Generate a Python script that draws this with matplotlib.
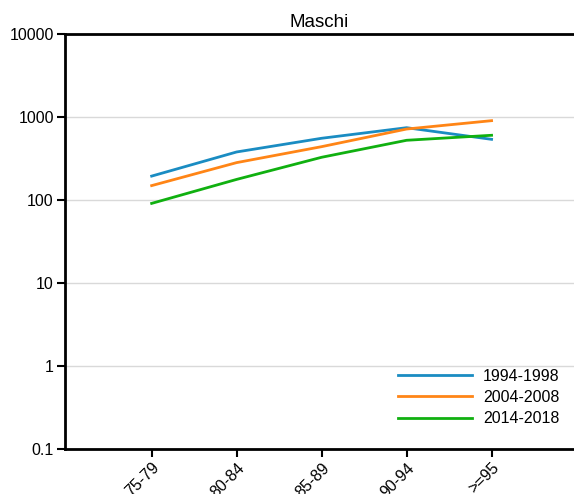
import numpy as np
import matplotlib.pyplot as plt
from matplotlib import font_manager

# keep the regular Liberation Sans, not the narrow cut
font_manager.fontManager.ttflist = [
    f for f in font_manager.fontManager.ttflist if "Narrow" not in f.fname
]
plt.rcParams["font.family"] = ["Liberation Sans", "DejaVu Sans"]

age_groups = ["75-79", "80-84", "85-89", "90-94", ">=95"]
periods = ["1994-1998", "2004-2008", "2014-2018"]
rates_1994 = [194, 379, 554, 743, 538]
rates_2004 = [149, 282, 439, 716, 903]
rates_2014 = [91, 177, 327, 524, 602]
colors = ["#1a8cc2", "#ff8516", "#10b010"]

fig = plt.figure(figsize=(5.74, 4.94), dpi=100)
ax = fig.add_axes([0.1132, 0.0911, 0.8868, 0.8401])

x = np.arange(1, len(age_groups) + 1)
for label, vals, col in zip(periods, [rates_1994, rates_2004, rates_2014], colors):
    ax.plot(x, vals, color=col, lw=2, label=label)

ax.set_yscale("log")
ax.set_ylim(0.1, 10000)
ax.set_xlim(-0.02, 5.97)
ax.set_yticks([0.1, 1, 10, 100, 1000, 10000])
ax.set_yticklabels(["0.1", "1", "10", "100", "1000", "10000"])
ax.minorticks_off()
ax.set_xticks(x)
ax.set_xticklabels(age_groups, rotation=45, ha="right", rotation_mode="anchor")
ax.tick_params(labelsize=11.5, width=1.5, length=6, colors="black")
ax.tick_params(axis="y", pad=2)
ax.tick_params(axis="x", pad=2)
ax.grid(axis="y", color="#d9d9d9", lw=1)
ax.set_axisbelow(True)

for s in ["left", "top", "bottom"]:
    ax.spines[s].set_linewidth(2)
ax.spines["right"].set_visible(False)

ax.set_title("Maschi", fontsize=13.5, pad=5)
ax.legend(loc="lower right", frameon=False, fontsize=11.5, handlelength=4.6,
          handletextpad=0.7, labelspacing=0.4, bbox_to_anchor=(1.0, 0.02))

fig.savefig("out.png", dpi=100)
